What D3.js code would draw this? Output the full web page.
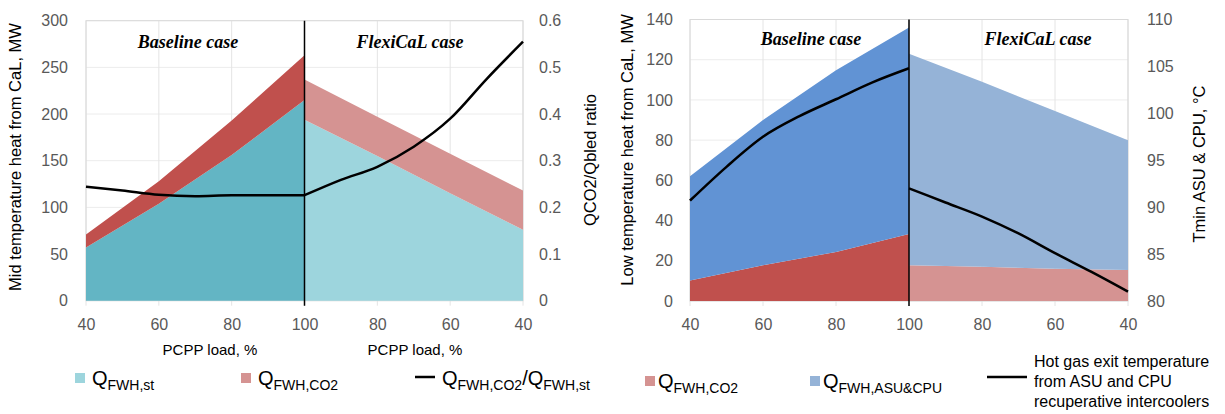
<!DOCTYPE html>
<html>
<head>
<meta charset="utf-8">
<script src="https://cdn.jsdelivr.net/npm/d3@7"></script>
<style>
	body { margin: 0; background: #fff; }
	svg { display: block; font-family: "Liberation Sans", Arial, sans-serif; }
	.tick text { fill: #595959; font-size: 16px; }
	.case { font-family: "Liberation Serif", "Times New Roman", serif; font-weight: bold; font-style: italic; font-size: 18px; }
</style>
</head>
<body>
<svg id="fig" width="1225" height="414"></svg>
<script>
// x axis: baseline 40..100 then FlexiCaL 100..40
var loadTicks = [40, 60, 80, 100, 80, 60, 40];
var areaLoads = [40, 60, 80, 100];
var lineLoads = [40, 50, 60, 70, 80, 90, 100];

// mid temperature heat, MW (left chart)
var midBaseSt = [57, 104, 156, 215];
var midBaseCo2 = [14, 24, 37, 48];
var midFlexSt = [76, 115, 155, 194];
var midFlexCo2 = [42, 42.5, 42, 43];
var ratioBase = [0.244, 0.236, 0.227, 0.224, 0.226, 0.226, 0.226];
var ratioFlex = [0.555, 0.475, 0.39, 0.33, 0.287, 0.259, 0.226];

// low temperature heat, MW (right chart)
var lowBaseCo2 = [10.2, 17.8, 24.4, 33.3];
var lowBaseAsu = [51.8, 72.2, 90.3, 102.7];
var lowFlexCo2 = [15.4, 16, 17, 17.8];
var lowFlexAsu = [64.6, 78.5, 92, 105.2];
var tempBase = [90.7, 94.3, 97.5, 99.7, 101.5, 103.3, 104.8];
var tempFlex = [81, 83.1, 85.1, 87.2, 89, 90.5, 92];

var svg = d3.select('#fig');

// baseline load -> position 0..60, flexical load -> 60..120
function basePos(l) { return l - 40; }
function flexPos(l) { return 160 - l; }

var Panel = function(cfg) {
	this.cfg = cfg;
	this.g = svg.append('g');
	this.x = d3.scaleLinear().domain([0, 120]).range([cfg.left, cfg.right]);
	this.y = d3.scaleLinear().domain(cfg.yDomain).range([cfg.bottom, cfg.top]);
	this.y2 = d3.scaleLinear().domain(cfg.y2Domain).range([cfg.bottom, cfg.top]);
};

Panel.prototype.drawFrame = function() {
	var c = this.cfg, x = this.x, y = this.y;
	var grid = this.g.append('g').attr('class', 'grid');

	grid.selectAll('line.h')
		.data(d3.range(c.yDomain[0], c.yDomain[1] + 0.001, c.yStep))
		.enter().append('line')
		.attr('x1', c.left).attr('x2', c.right)
		.attr('y1', function(d){return y(d);})
		.attr('y2', function(d){return y(d);})
		.attr('stroke', '#ececec');

	grid.selectAll('line.v')
		.data(d3.range(0, 121, 20))
		.enter().append('line')
		.attr('y1', c.top).attr('y2', c.bottom + 5)
		.attr('x1', function(d){return x(d);})
		.attr('x2', function(d){return x(d);})
		.attr('stroke', '#e4e4e4');

	this.g.append('rect')
		.attr('x', c.left).attr('y', c.top)
		.attr('width', c.right - c.left).attr('height', c.bottom - c.top)
		.attr('fill', 'none').attr('stroke', '#d9d9d9');
};

Panel.prototype.drawAreas = function(loads, lower, upper, posFn, colors) {
	var x = this.x, y = this.y;
	var rows = loads.map(function(l, i){
		return {pos: posFn(l), a: lower[i], b: upper[i]};
	}).sort(function(p, q){return p.pos - q.pos;});

	var series = d3.stack().keys(['a', 'b'])(rows);
	var area = d3.area()
		.x(function(d){return x(d.data.pos);})
		.y0(function(d){return y(d[0]);})
		.y1(function(d){return y(d[1]);});

	this.g.append('g').selectAll('path')
		.data(series)
		.enter().append('path')
		.attr('d', area)
		.attr('fill', function(d, i){return colors[i];});
};

Panel.prototype.drawLine = function(loads, vals, posFn) {
	var x = this.x, y2 = this.y2;
	var pts = loads.map(function(l, i){return [posFn(l), vals[i]];})
		.sort(function(p, q){return p[0] - q[0];});
	this.g.append('path')
		.datum(pts)
		.attr('fill', 'none')
		.attr('stroke', '#000')
		.attr('stroke-width', 2.5)
		.attr('d', d3.line()
			.curve(d3.curveMonotoneX)
			.x(function(d){return x(d[0]);})
			.y(function(d){return y2(d[1]);}));
};

Panel.prototype.drawAxes = function() {
	var c = this.cfg;

	var xa = this.g.append('g')
		.attr('transform', 'translate(0,' + c.bottom + ')')
		.call(d3.axisBottom(this.x)
			.tickValues(d3.range(0, 121, 20))
			.tickFormat(function(d, i){return loadTicks[i];})
			.tickSize(0).tickPadding(18));

	var ya = this.g.append('g')
		.attr('transform', 'translate(' + c.left + ',0)')
		.call(d3.axisLeft(this.y)
			.tickValues(d3.range(c.yDomain[0], c.yDomain[1] + 0.001, c.yStep))
			.tickSize(0).tickPadding(c.leftPad));

	var y2a = this.g.append('g')
		.attr('transform', 'translate(' + c.right + ',0)')
		.call(d3.axisRight(this.y2)
			.tickValues(d3.range(c.y2Domain[0], c.y2Domain[1] + 0.0001, c.y2Step))
			.tickFormat(c.y2Format)
			.tickSize(0).tickPadding(c.rightPad));

	[xa, ya, y2a].forEach(function(a){ a.select('.domain').remove(); });

	// divider between baseline and flexical
	this.g.append('line')
		.attr('x1', this.x(60)).attr('x2', this.x(60))
		.attr('y1', c.top).attr('y2', c.bottom + 5)
		.attr('stroke', '#000').attr('stroke-width', 1.5);

	this.g.append('text')
		.attr('transform', 'translate(' + c.yTitleX + ',' + c.yTitleY + ') rotate(-90)')
		.attr('text-anchor', 'middle')
		.style('font-size', '16.5px')
		.text(c.yTitle);

	this.g.append('text')
		.attr('transform', 'translate(' + c.y2TitleX + ',' + c.y2TitleY + ') rotate(-90)')
		.attr('text-anchor', 'middle')
		.style('font-size', '16.5px')
		.text(c.y2Title);

	var g = this.g;
	c.cases.forEach(function(cs){
		g.append('text')
			.attr('class', 'case')
			.attr('x', cs[1]).attr('y', c.caseY)
			.attr('text-anchor', 'middle')
			.text(cs[0]);
	});
};

// legend entry with "Q" and subscript parts
function qLabel(sel, parts) {
	parts.forEach(function(p){
		sel.append('tspan')
			.style('font-size', p[1] ? '14px' : '20px')
			.attr('dy', p[2] || 0)
			.text(p[0]);
	});
}

function legendSwatch(x, y, color) {
	svg.append('rect')
		.attr('x', x).attr('y', y)
		.attr('width', 10).attr('height', 10)
		.attr('fill', color);
}

var left = new Panel({
	left: 86, right: 523, top: 20.7, bottom: 300.7,
	yDomain: [0, 300], yStep: 50,
	y2Domain: [0, 0.6], y2Step: 0.1,
	y2Format: function(d){return d === 0 ? '0' : d3.format('.1f')(d);},
	leftPad: 18, rightPad: 16,
	yTitle: 'Mid temperature heat from CaL, MW', yTitleX: 21, yTitleY: 157,
	y2Title: 'QCO2/Qbled ratio', y2TitleX: 596, y2TitleY: 160,
	caseY: 48, cases: [['Baseline case', 188], ['FlexiCaL case', 410]]
});
left.drawFrame();
left.drawAreas(areaLoads, midBaseSt, midBaseCo2, basePos, ['#63b5c4', '#c0504d']);
left.drawAreas(areaLoads, midFlexSt, midFlexCo2, flexPos, ['#9dd5dd', '#d59392']);
left.drawLine(lineLoads, ratioBase, basePos);
left.drawLine(lineLoads, ratioFlex, flexPos);
left.drawAxes();

var right = new Panel({
	left: 690, right: 1128, top: 19.5, bottom: 301,
	yDomain: [0, 140], yStep: 20,
	y2Domain: [80, 110], y2Step: 5,
	y2Format: d3.format('d'),
	leftPad: 17, rightPad: 19,
	yTitle: 'Low temperature heat from CaL, MW', yTitleX: 633, yTitleY: 150,
	y2Title: 'Tmin ASU & CPU, °C', y2TitleX: 1205, y2TitleY: 164,
	caseY: 45, cases: [['Baseline case', 811], ['FlexiCaL case', 1038]]
});
right.drawFrame();
right.drawAreas(areaLoads, lowBaseCo2, lowBaseAsu, basePos, ['#c0504d', '#6193d4']);
right.drawAreas(areaLoads, lowFlexCo2, lowFlexAsu, flexPos, ['#d59392', '#95b3d7']);
right.drawLine(lineLoads, tempBase, basePos);
right.drawLine(lineLoads, tempFlex, flexPos);
right.drawAxes();

// x axis titles (left chart only)
[[210, 'PCPP load, %'], [415, 'PCPP load, %']].forEach(function(t){
	svg.append('text')
		.attr('x', t[0]).attr('y', 355)
		.attr('text-anchor', 'middle')
		.style('font-size', '15px')
		.text(t[1]);
});

// legends
legendSwatch(75, 373, '#9dd5dd');
qLabel(svg.append('text').attr('x', 92).attr('y', 385),
	[['Q'], ['FWH,st', true, 5]]);

legendSwatch(241, 373, '#d59392');
qLabel(svg.append('text').attr('x', 258).attr('y', 385),
	[['Q'], ['FWH,CO2', true, 5]]);

svg.append('line')
	.attr('x1', 415).attr('x2', 435).attr('y1', 377).attr('y2', 377)
	.attr('stroke', '#000').attr('stroke-width', 2.5);
qLabel(svg.append('text').attr('x', 442).attr('y', 385),
	[['Q'], ['FWH,CO2', true, 5], ['/Q', false, -5], ['FWH,st', true, 5]]);

legendSwatch(645, 376, '#d59392');
qLabel(svg.append('text').attr('x', 658).attr('y', 388),
	[['Q'], ['FWH,CO2', true, 5]]);

legendSwatch(810, 376, '#95b3d7');
qLabel(svg.append('text').attr('x', 823).attr('y', 388),
	[['Q'], ['FWH,ASU&CPU', true, 5]]);

svg.append('line')
	.attr('x1', 987).attr('x2', 1027).attr('y1', 377).attr('y2', 377)
	.attr('stroke', '#000').attr('stroke-width', 2.5);
svg.append('text')
	.attr('x', 1034).attr('y', 367)
	.style('font-size', '16px')
	.selectAll('tspan')
	.data(['Hot gas exit temperature', 'from ASU and CPU', 'recuperative intercoolers'])
	.enter().append('tspan')
	.attr('x', 1034)
	.attr('dy', function(d, i){return i ? 20 : 0;})
	.text(function(d){return d;});
</script>
</body>
</html>
